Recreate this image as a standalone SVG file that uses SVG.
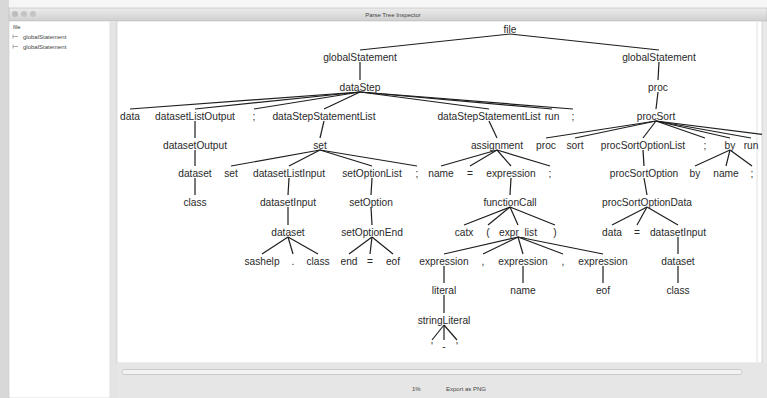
<svg xmlns="http://www.w3.org/2000/svg" width="767" height="398" viewBox="0 0 767 398">
<defs>
<linearGradient id="tb" x1="0" y1="0" x2="0" y2="1"><stop offset="0" stop-color="#ececec"/><stop offset="1" stop-color="#cfcfcf"/></linearGradient>
<clipPath id="cv"><rect x="117" y="21" width="645" height="342"/></clipPath>
<style>
.n{font-family:"Liberation Sans",Arial,sans-serif;font-size:10.2px;fill:#2a2a2a;text-anchor:middle}
.s{font-family:"Liberation Sans",Arial,sans-serif;font-size:6px;fill:#444}
.e line{stroke:#1e1e1e;stroke-width:1.2}
</style>
</defs>
<rect width="767" height="398" fill="#e9e9e9"/>
<rect x="0" y="0" width="767" height="8" fill="#f6f6f6"/>
<rect x="0" y="0" width="9" height="398" fill="#d8d8d8"/>
<g id="window-chrome">
<rect x="9" y="8" width="758" height="13" fill="url(#tb)" stroke="#b8b8b8" stroke-width="0.6"/>
<circle cx="15" cy="14" r="3" fill="#bdbdbd"/><circle cx="24" cy="14" r="3" fill="#c4c4c4"/><circle cx="33" cy="14" r="3" fill="#c4c4c4"/>
<text class="s" x="393" y="16.5" text-anchor="middle">Parse Tree Inspector</text>
</g>
<g id="left-panel">
<rect x="9" y="21" width="101" height="377" fill="#ffffff" stroke="#c8c8c8" stroke-width="0.6"/>
<text class="s" x="13" y="29">file</text>
<path d="M13 36.5h5M13 34.5v4M13 46.5h5M13 44.5v4" stroke="#777" stroke-width="0.6" fill="none"/>
<text class="s" x="23" y="38.5">globalStatement</text>
<text class="s" x="23" y="48.5">globalStatement</text>
</g>
<rect x="110" y="21" width="7" height="377" fill="#e4e4e4"/>
<g id="canvas">
<rect x="117" y="21" width="645" height="342" fill="#ffffff" stroke="#c4c4c4" stroke-width="0.6"/>
<line x1="757" y1="22" x2="757" y2="362" stroke="#e2e2e2" stroke-width="1"/>
</g>
<g id="bottom-bar">
<rect x="117" y="363" width="650" height="35" fill="#e6e6e6"/>
<rect x="122" y="369.5" width="620" height="5" rx="2.5" fill="#f2f2f2" stroke="#b4b4b4" stroke-width="0.6"/>
<text class="s" x="412" y="391">1%</text>
<text class="s" x="446" y="391">Export as PNG</text>
</g>
<g clip-path="url(#cv)">
<g id="connectors" class="e">
<line x1="510" y1="34" x2="360" y2="50"/><line x1="510" y1="34" x2="659" y2="50"/>
<line x1="360" y1="62" x2="360" y2="80"/>
<line x1="360" y1="92" x2="130" y2="109"/><line x1="360" y1="92" x2="195" y2="109"/><line x1="360" y1="92" x2="254" y2="109"/><line x1="360" y1="92" x2="324" y2="109"/><line x1="360" y1="92" x2="489" y2="109"/><line x1="360" y1="92" x2="552" y2="109"/><line x1="360" y1="92" x2="573" y2="109"/>
<line x1="195" y1="121" x2="195" y2="138"/><line x1="195" y1="150" x2="195" y2="166"/><line x1="195" y1="178" x2="195" y2="195"/>
<line x1="324" y1="121" x2="320" y2="138"/>
<line x1="320" y1="150" x2="231" y2="166"/><line x1="320" y1="150" x2="289" y2="166"/><line x1="320" y1="150" x2="372" y2="166"/><line x1="320" y1="150" x2="417" y2="166"/>
<line x1="289" y1="178" x2="288" y2="195"/><line x1="288" y1="207" x2="288" y2="225"/>
<line x1="288" y1="237" x2="262" y2="254"/><line x1="288" y1="237" x2="293" y2="254"/><line x1="288" y1="237" x2="318" y2="254"/>
<line x1="372" y1="178" x2="371" y2="195"/><line x1="371" y1="207" x2="372" y2="225"/>
<line x1="372" y1="237" x2="349" y2="254"/><line x1="372" y1="237" x2="370" y2="254"/><line x1="372" y1="237" x2="393" y2="254"/>
<line x1="489" y1="121" x2="497" y2="138"/>
<line x1="497" y1="150" x2="441" y2="166"/><line x1="497" y1="150" x2="470" y2="166"/><line x1="497" y1="150" x2="511" y2="166"/><line x1="497" y1="150" x2="550" y2="166"/>
<line x1="511" y1="178" x2="510" y2="195"/>
<line x1="510" y1="207" x2="464" y2="225"/><line x1="510" y1="207" x2="488" y2="225"/><line x1="510" y1="207" x2="518" y2="225"/><line x1="510" y1="207" x2="555" y2="225"/>
<line x1="518" y1="237" x2="444" y2="254"/><line x1="518" y1="237" x2="483" y2="254"/><line x1="518" y1="237" x2="523" y2="254"/><line x1="518" y1="237" x2="563" y2="254"/><line x1="518" y1="237" x2="603" y2="254"/>
<line x1="444" y1="266" x2="444" y2="283"/><line x1="444" y1="295" x2="444" y2="313"/>
<line x1="444" y1="325" x2="432" y2="340"/><line x1="444" y1="325" x2="444" y2="340"/><line x1="444" y1="325" x2="457" y2="340"/>
<line x1="523" y1="266" x2="523" y2="283"/><line x1="603" y1="266" x2="603" y2="283"/>
<line x1="659" y1="62" x2="658" y2="80"/><line x1="658" y1="92" x2="656" y2="109"/>
<line x1="656" y1="121" x2="546" y2="138"/><line x1="656" y1="121" x2="575" y2="138"/><line x1="656" y1="121" x2="643" y2="138"/><line x1="656" y1="121" x2="705" y2="138"/><line x1="656" y1="121" x2="730" y2="138"/><line x1="656" y1="121" x2="751" y2="138"/><line x1="656" y1="121" x2="790" y2="138"/>
<line x1="643" y1="150" x2="644" y2="166"/><line x1="644" y1="178" x2="647" y2="195"/>
<line x1="647" y1="207" x2="612" y2="225"/><line x1="647" y1="207" x2="637" y2="225"/><line x1="647" y1="207" x2="678" y2="225"/>
<line x1="678" y1="237" x2="678" y2="254"/><line x1="678" y1="266" x2="678" y2="283"/>
<line x1="730" y1="150" x2="695" y2="166"/><line x1="730" y1="150" x2="726" y2="166"/><line x1="730" y1="150" x2="752" y2="166"/>
</g>
<g id="n-file"><text class="n" x="510" y="33">file</text></g>
<g id="n-gs1"><text class="n" x="360" y="61">globalStatement</text></g>
<g id="n-gs2"><text class="n" x="659" y="61">globalStatement</text></g>
<g id="n-dataStep"><text class="n" x="360" y="91">dataStep</text></g>
<g id="n-proc"><text class="n" x="658" y="91">proc</text></g>
<g id="n-data1"><text class="n" x="130" y="120">data</text></g>
<g id="n-dlo"><text class="n" x="195" y="120">datasetListOutput</text></g>
<g id="n-semi1"><text class="n" x="254" y="120">;</text></g>
<g id="n-dssl1"><text class="n" x="324" y="120">dataStepStatementList</text></g>
<g id="n-dssl2"><text class="n" x="489" y="120">dataStepStatementList</text></g>
<g id="n-run1"><text class="n" x="552" y="120">run</text></g>
<g id="n-semi2"><text class="n" x="573" y="120">;</text></g>
<g id="n-procSort"><text class="n" x="656" y="120">procSort</text></g>
<g id="n-dso"><text class="n" x="195" y="149">datasetOutput</text></g>
<g id="n-set1"><text class="n" x="320" y="149">set</text></g>
<g id="n-assign"><text class="n" x="497" y="149">assignment</text></g>
<g id="n-proc2"><text class="n" x="546" y="149">proc</text></g>
<g id="n-sort"><text class="n" x="575" y="149">sort</text></g>
<g id="n-psol"><text class="n" x="643" y="149">procSortOptionList</text></g>
<g id="n-semi3"><text class="n" x="705" y="149">;</text></g>
<g id="n-by1"><text class="n" x="730" y="149">by</text></g>
<g id="n-run2"><text class="n" x="751" y="149">run</text></g>
<g id="n-dataset1"><text class="n" x="195" y="177">dataset</text></g>
<g id="n-set2"><text class="n" x="231" y="177">set</text></g>
<g id="n-dli"><text class="n" x="289" y="177">datasetListInput</text></g>
<g id="n-sol"><text class="n" x="372" y="177">setOptionList</text></g>
<g id="n-semi4"><text class="n" x="417" y="177">;</text></g>
<g id="n-name1"><text class="n" x="441" y="177">name</text></g>
<g id="n-eq1"><text class="n" x="470" y="177">=</text></g>
<g id="n-expr1"><text class="n" x="511" y="177">expression</text></g>
<g id="n-semi5"><text class="n" x="550" y="177">;</text></g>
<g id="n-pso"><text class="n" x="644" y="177">procSortOption</text></g>
<g id="n-by2"><text class="n" x="695" y="177">by</text></g>
<g id="n-name2"><text class="n" x="726" y="177">name</text></g>
<g id="n-semi6"><text class="n" x="752" y="177">;</text></g>
<g id="n-class1"><text class="n" x="195" y="206">class</text></g>
<g id="n-di1"><text class="n" x="288" y="206">datasetInput</text></g>
<g id="n-so"><text class="n" x="371" y="206">setOption</text></g>
<g id="n-fc"><text class="n" x="510" y="206">functionCall</text></g>
<g id="n-psod"><text class="n" x="647" y="206">procSortOptionData</text></g>
<g id="n-dataset2"><text class="n" x="288" y="236">dataset</text></g>
<g id="n-soe"><text class="n" x="372" y="236">setOptionEnd</text></g>
<g id="n-catx"><text class="n" x="464" y="236">catx</text></g>
<g id="n-lp"><text class="n" x="488" y="236">(</text></g>
<g id="n-el"><text class="n" x="518" y="236">expr_list</text></g>
<g id="n-rp"><text class="n" x="555" y="236">)</text></g>
<g id="n-data2"><text class="n" x="612" y="236">data</text></g>
<g id="n-eq2"><text class="n" x="637" y="236">=</text></g>
<g id="n-di2"><text class="n" x="678" y="236">datasetInput</text></g>
<g id="n-sashelp"><text class="n" x="262" y="265">sashelp</text></g>
<g id="n-dot"><text class="n" x="293" y="265">.</text></g>
<g id="n-class2"><text class="n" x="318" y="265">class</text></g>
<g id="n-end"><text class="n" x="349" y="265">end</text></g>
<g id="n-eq3"><text class="n" x="370" y="265">=</text></g>
<g id="n-eof1"><text class="n" x="393" y="265">eof</text></g>
<g id="n-expr2"><text class="n" x="444" y="265">expression</text></g>
<g id="n-comma1"><text class="n" x="483" y="265">,</text></g>
<g id="n-expr3"><text class="n" x="523" y="265">expression</text></g>
<g id="n-comma2"><text class="n" x="563" y="265">,</text></g>
<g id="n-expr4"><text class="n" x="603" y="265">expression</text></g>
<g id="n-dataset3"><text class="n" x="678" y="265">dataset</text></g>
<g id="n-literal"><text class="n" x="444" y="294">literal</text></g>
<g id="n-name3"><text class="n" x="523" y="294">name</text></g>
<g id="n-eof2"><text class="n" x="603" y="294">eof</text></g>
<g id="n-class3"><text class="n" x="678" y="294">class</text></g>
<g id="n-sl"><text class="n" x="444" y="324">stringLiteral</text></g>
<g id="n-q1"><text class="n" x="432" y="350">'</text></g>
<g id="n-dash"><text class="n" x="444" y="350">-</text></g>
<g id="n-q2"><text class="n" x="457" y="350">'</text></g>
</g>
</svg>
